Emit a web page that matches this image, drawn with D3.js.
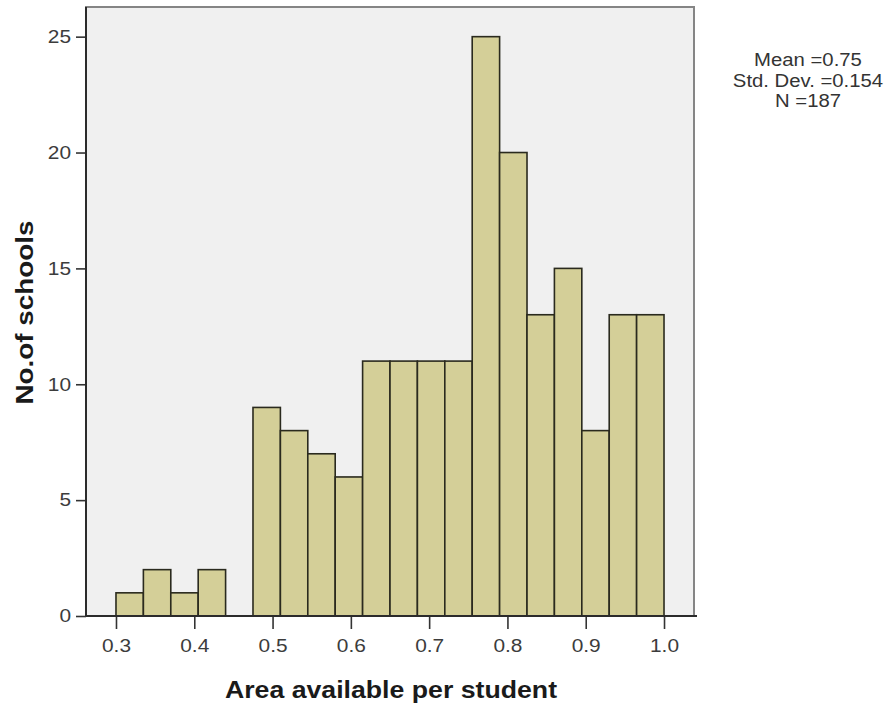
<!DOCTYPE html>
<html>
<head>
<meta charset="utf-8">
<script src="https://cdn.jsdelivr.net/npm/d3@7"></script>
<style>
  html, body { margin: 0; padding: 0; background: #ffffff; }
  svg { display: block; }
  text { font-family: "Liberation Sans", Arial, sans-serif; }
</style>
</head>
<body>
<svg id="chart" width="891" height="707"></svg>
<script>
// ---- data ----
const binStart = 0.30;
const binWidth = 0.035;
const counts = [1, 2, 1, 2, 0, 9, 8, 7, 6, 11, 11, 11, 11, 25, 20, 13, 15, 8, 13, 13];
const xTicks = [0.3, 0.4, 0.5, 0.6, 0.7, 0.8, 0.9, 1.0];
const yTicks = [0, 5, 10, 15, 20, 25];
const statsLines = ["Mean =0.75", "Std. Dev. =0.154", "N =187"];
const xTitle = "Area available per student";
const yTitle = "No.of schools";

const bins = counts.map((c, i) => ({ x0: binStart + i * binWidth, x1: binStart + (i + 1) * binWidth, count: c }));

// ---- layout ----
const svg = d3.select("#chart");
const plot = { left: 86, right: 694, top: 7, bottom: 616 };

const x = d3.scaleLinear().domain([0.2617, 1.0383]).range([plot.left, plot.right]);
const y = d3.scaleLinear().domain([0, 26.28]).range([plot.bottom, plot.top]);

const stretch = 1.16;
function widen(sel) {
  sel.each(function () {
    const len = this.getComputedTextLength();
    this.setAttribute("textLength", len * stretch);
    this.setAttribute("lengthAdjust", "spacingAndGlyphs");
  });
}

// background
svg.append("rect")
  .attr("x", plot.left).attr("y", plot.top)
  .attr("width", plot.right - plot.left).attr("height", plot.bottom - plot.top)
  .attr("fill", "#f0f0f0")
  .attr("stroke", "#858585").attr("stroke-width", 2);

// bars
svg.append("g").selectAll("rect")
  .data(bins.filter(d => d.count > 0))
  .join("rect")
  .attr("x", d => x(d.x0))
  .attr("y", d => y(d.count))
  .attr("width", d => x(d.x1) - x(d.x0))
  .attr("height", d => y(0) - y(d.count))
  .attr("fill", "#d4cf98")
  .attr("stroke", "#2a2a1e")
  .attr("stroke-width", 1.6);

// x axis
const xAxis = svg.append("g")
  .attr("transform", `translate(0,${plot.bottom})`)
  .call(d3.axisBottom(x).tickValues(xTicks).tickFormat(d3.format(".1f")).tickSize(13).tickPadding(10).tickSizeOuter(0));
xAxis.select(".domain").remove();
xAxis.append("line")
  .attr("x1", plot.left).attr("x2", plot.right + 3)
  .attr("stroke", "#2b2b2b").attr("stroke-width", 2);
xAxis.selectAll(".tick line").attr("stroke", "#333").attr("stroke-width", 1.6);
xAxis.selectAll(".tick text").attr("fill", "#3c3c3c").attr("font-size", 18);
widen(xAxis.selectAll(".tick text"));

// y axis
const yAxis = svg.append("g")
  .attr("transform", `translate(${plot.left},0)`)
  .call(d3.axisLeft(y).tickValues(yTicks).tickSize(10).tickPadding(5).tickSizeOuter(0));
yAxis.select(".domain").remove();
yAxis.append("line")
  .attr("y1", plot.top).attr("y2", plot.bottom)
  .attr("stroke", "#2b2b2b").attr("stroke-width", 2);
yAxis.selectAll(".tick line").attr("stroke", "#333").attr("stroke-width", 1.6);
yAxis.selectAll(".tick text").attr("fill", "#3c3c3c").attr("font-size", 18);
widen(yAxis.selectAll(".tick text"));

// axis titles
const xt = svg.append("text")
  .attr("x", (plot.left + plot.right) / 2 + 1)
  .attr("y", 698)
  .attr("text-anchor", "middle")
  .attr("font-size", 23).attr("font-weight", "bold").attr("fill", "#1a1a1a")
  .text(xTitle);
widen(xt);

const yt = svg.append("text")
  .attr("transform", "translate(33,312.5) rotate(-90)")
  .attr("text-anchor", "middle")
  .attr("font-size", 24).attr("font-weight", "bold").attr("fill", "#1a1a1a")
  .text(yTitle);
widen(yt);

// stats annotation
const st = svg.append("g").selectAll("text")
  .data(statsLines)
  .join("text")
  .attr("x", 808)
  .attr("y", (d, i) => 66 + i * 20.5)
  .attr("text-anchor", "middle")
  .attr("font-size", 17.5).attr("fill", "#333")
  .text(d => d);
widen(st);
</script>
</body>
</html>
